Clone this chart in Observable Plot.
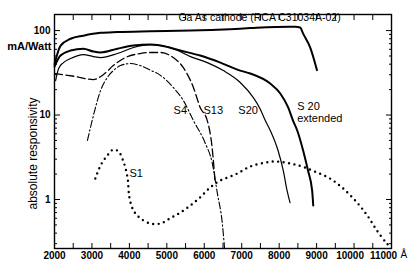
<!DOCTYPE html>
<html><head><meta charset="utf-8">
<script src="https://cdn.jsdelivr.net/npm/d3@7"></script>
<script src="https://cdn.jsdelivr.net/npm/@observablehq/plot@0.6"></script>
<style>
body{margin:0;background:#fff}
#chart svg{display:block;font-family:"Liberation Sans",Arial,sans-serif}
</style>
</head><body><div id="chart"></div>
<script>
// Wavelength (Å) and absolute responsivity (mA/Watt)
const gaasWl  = [2000,2160,2430,2770,3230,3680,4560,5630,6690,7230,8290,8430,8560,8640,8830,9010];
const gaasVal = [40,66,80,87,94,96,98,100,104,107,111,111,109,92,63,34];

const s20eWl  = [2000,2160,2430,2770,3040,3230,3680,4110,4560,4830,5360,5890,6430,6960,7230,7760,8030,8240,8370,8480,8640,8770,8880,8910];
const s20eVal = [37.5,50.6,58,61,56.4,55,61,66.4,68.3,66.4,58,50.6,41.8,33.6,31,23.6,18,12.3,8.6,6.6,3.8,2.2,1.28,0.85];

const s20Wl   = [2030,2110,2240,2430,2770,3040,3230,3680,4110,4560,5170,5630,6080,6510,6960,7310,7490,7630,7760,7970,8110,8210,8290];
const s20Val  = [25.6,35.5,41.8,46.7,52,49.2,47.9,53.5,63,68,61,49.2,41.8,33.6,24.3,16.1,11.9,8.6,6.6,3.8,2.2,1.28,0.92];

const s13Wl   = [2000,2560,3040,3310,3570,3890,4290,4560,4830,5170,5440,5710,5890,6080,6210,6290];
const s13Val  = [31,28.6,26.3,30.2,38.5,47.9,53.5,55,55,47.9,36.5,21.2,12.3,8.6,4.1,1.59];

const s4Wl    = [2880,3040,3230,3410,3570,3760,4030,4290,4560,4830,5170,5440,5710,6030,6210,6350,6480,6540];
const s4Val   = [5.0,9.9,19.5,27.8,33.6,38.5,40.7,38.5,34,29.5,21.2,14.9,8.6,4.6,2.74,1.18,0.53,0.27];

const s1Wl    = [3090,3230,3410,3570,3710,3840,3950,4000,4110,4290,4560,4830,5090,5360,5630,5890,6160,6430,6830,7230,7630,7890,8160,8430,8690,9010,9360,9710,10080,10350,10610,10880,10990];
const s1Val   = [1.77,2.53,3.32,3.9,3.7,2.82,1.82,1.06,0.74,0.6,0.52,0.52,0.6,0.7,0.85,1.06,1.39,1.68,1.98,2.46,2.74,2.82,2.74,2.59,2.39,2.09,1.77,1.35,0.92,0.65,0.43,0.3,0.27];

const xTicks = d3.range(2000, 11001, 500);
const xLabels = d3.range(2000, 9001, 1000);
const xLabel10k = [10000];
const xLabel11k = [11000];
const yMajor = [1, 10, 100];
const yMinor = [0.3,0.4,0.5,0.6,0.7,0.8,0.9,2,3,4,5,6,7,8,9,20,30,40,50,60,70,80,90];

// curve labels: [text, wavelength, responsivity]
const startLabels = [
  ["S 20", 8480, 12.6],
  ["extended", 8480, 9.1],
  ["S1", 4000, 2.03]
];
const middleLabels = [
  ["S4", 5360, 11.3],
  ["S13", 6240, 11.3],
  ["S20", 7170, 11.3]
];
const titleLabel = [["Ga As cathode (RCA C31034A-02)", 5310, 141]];

const toRows = (wl, val) => wl.map((w, i) => ({wl: w, v: val[i]}));
const lab = arr => arr.map(([t, x, y]) => ({t, x, y}));

const tickFont = {fontSize: 10, fontWeight: 600};
const none = () => "";
const fmt = d => String(d);

const plot = Plot.plot({
  width: 408, height: 266,
  marginLeft: 54, marginRight: 17, marginTop: 14, marginBottom: 18,
  style: {fontFamily: "Liberation Sans, Arial, sans-serif", fontSize: "11px", color: "#000", background: "#fff"},
  x: {domain: [2000, 11000]},
  y: {type: "log", domain: [0.263, 155]},
  marks: [
    Plot.frame({strokeWidth: 1.4}),
    Plot.axisX({anchor: "bottom", ticks: xTicks, tickSize: -5, tickFormat: none, label: null}),
    Plot.axisX({anchor: "bottom", ticks: xLabels, tickSize: 0, tickPadding: 3, tickFormat: fmt, label: null, ...tickFont}),
    Plot.axisX({anchor: "bottom", ticks: xLabel10k, tickSize: 0, tickPadding: 3, dx: -4, tickFormat: fmt, label: null, ...tickFont}),
    Plot.axisX({anchor: "bottom", ticks: xLabel11k, tickSize: 0, tickPadding: 3, dx: -8, tickFormat: fmt, label: null, ...tickFont}),
    Plot.axisX({anchor: "top", ticks: xTicks, tickSize: -5, tickFormat: none, label: null}),
    Plot.axisY({anchor: "left", ticks: yMinor, tickSize: -3, tickFormat: none, label: null}),
    Plot.axisY({anchor: "left", ticks: yMajor, tickSize: -6, tickFormat: none, label: null}),
    Plot.axisY({anchor: "left", ticks: yMajor, tickSize: 0, tickPadding: 4, tickFormat: fmt, label: null, ...tickFont}),
    Plot.axisY({anchor: "right", ticks: yMinor, tickSize: -3, tickFormat: none, label: null}),
    Plot.axisY({anchor: "right", ticks: yMajor, tickSize: -6, tickFormat: none, label: null}),
    Plot.text(["mA/Watt"], {frameAnchor: "top-left", dx: -3, dy: 28, textAnchor: "end", fontSize: 11, fontWeight: 600}),
    Plot.text(["absolute responsivity"], {frameAnchor: "left", textAnchor: "middle", rotate: -90, dx: -21, dy: 22, fontSize: 12}),
    Plot.text(["Å"], {frameAnchor: "bottom-right", textAnchor: "start", dx: 9, dy: 9, fontSize: 10}),
    Plot.line(toRows(gaasWl, gaasVal), {x: "wl", y: "v", stroke: "#000", strokeWidth: 2, curve: "monotone-x"}),
    Plot.line(toRows(s20eWl, s20eVal), {x: "wl", y: "v", stroke: "#000", strokeWidth: 2, curve: "monotone-x"}),
    Plot.line(toRows(s20Wl, s20Val), {x: "wl", y: "v", stroke: "#000", strokeWidth: 1.2, curve: "monotone-x"}),
    Plot.line(toRows(s13Wl, s13Val), {x: "wl", y: "v", stroke: "#000", strokeWidth: 1.3, strokeDasharray: "8,3.5", curve: "monotone-x"}),
    Plot.line(toRows(s4Wl, s4Val), {x: "wl", y: "v", stroke: "#000", strokeWidth: 1.1, strokeDasharray: "7,2.5,1.5,2.5", curve: "monotone-x"}),
    Plot.line(toRows(s1Wl, s1Val), {x: "wl", y: "v", stroke: "#000", strokeWidth: 2.4, strokeLinecap: "round", strokeDasharray: "0,5.5", curve: "catmull-rom"}),
    Plot.text(lab(titleLabel), {x: "x", y: "y", text: "t", textAnchor: "start", fontSize: 10.5, fill: "#000"}),
    Plot.text(lab(startLabels), {x: "x", y: "y", text: "t", textAnchor: "start", fontSize: 11, fill: "#000"}),
    Plot.text(lab(middleLabels), {x: "x", y: "y", text: "t", textAnchor: "middle", fontSize: 11, fill: "#000"})
  ]
});
document.getElementById("chart").appendChild(plot);
</script>
</body></html>
